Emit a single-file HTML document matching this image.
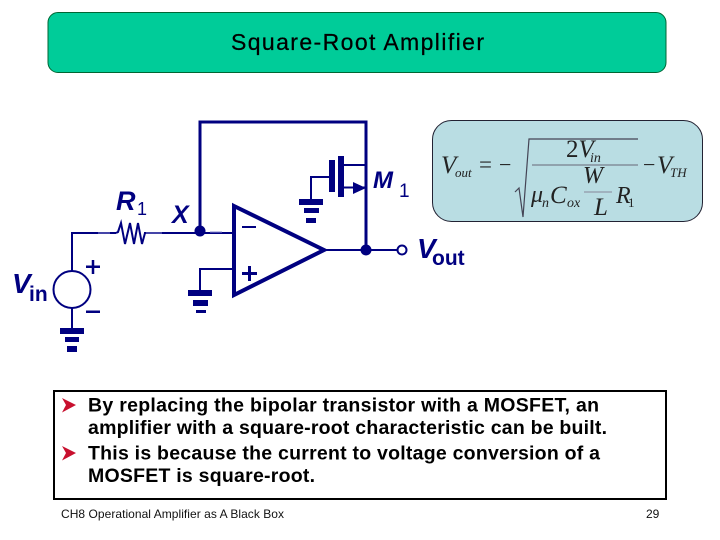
<!DOCTYPE html>
<html>
<head>
<meta charset="utf-8">
<style>
html,body{margin:0;padding:0;background:#fff;width:720px;height:540px;overflow:hidden}
svg{display:block}
text{font-family:"Liberation Sans",Arial,sans-serif}
.s{font-family:"Liberation Serif",serif;fill:#222}
.c{font-family:"Liberation Sans",sans-serif;fill:#000080}
</style>
</head>
<body>
<svg width="720" height="540" viewBox="0 0 720 540" xmlns="http://www.w3.org/2000/svg">
<rect x="48" y="12.5" width="618" height="60" rx="10" fill="#00cc99" stroke="#063" stroke-width="1"/>
<text x="231" y="50" font-size="23" textLength="253" lengthAdjust="spacing" fill="#000" stroke="#000" stroke-width="0.25">Square-Root Amplifier</text>

<!-- circuit -->
<g fill="none" stroke="#000080" stroke-width="2">
<path d="M72 271V233H116" />
<path d="M116 233l2-1 3-9 4 21 5-21 4 21 4-21 4 21 3-11h3"/>
<path d="M144 233H233"/>
<path d="M72 307V329"/>
<circle cx="72" cy="289.500" r="18.500"/>
<path d="M233 269H200V291"/>
<path d="M311 199V177H331"/>
<path d="M343 165H366M343 187.500H366M326 250H398"/>
</g>
<path d="M98 233H110M146 233H162M210 232H222" stroke="#8a8ad0" stroke-width="1" fill="none"/>
<path d="M200 231V122H366V250" fill="none" stroke="#000080" stroke-width="3"/>
<path d="M234 206L324 250L234 295Z" fill="none" stroke="#000080" stroke-width="4"/>
<rect x="329" y="160" width="6" height="32" fill="#000080"/>
<rect x="338" y="156" width="6" height="41" fill="#000080"/>
<path d="M353 182L366 188L353 194Z" fill="#000080"/>
<circle cx="200" cy="231" r="5.500" fill="#000080"/>
<circle cx="366" cy="250" r="5.500" fill="#000080"/>
<circle cx="402" cy="250" r="4.500" fill="#fff" stroke="#000080" stroke-width="2"/>

<!-- grounds -->
<g fill="#000080">
<rect x="188" y="290" width="24" height="6"/><rect x="193" y="300" width="15" height="6"/><rect x="196" y="310" width="10" height="3"/>
<rect x="299" y="199" width="24" height="6"/><rect x="304" y="208" width="15" height="5"/><rect x="306" y="218" width="10" height="5"/>
<rect x="60" y="328" width="24" height="6"/><rect x="65" y="337" width="14" height="5"/><rect x="67" y="346" width="10" height="6"/>
<rect x="242" y="226" width="14" height="2"/>
<rect x="242" y="272" width="15" height="3"/><rect x="248" y="266" width="3" height="15"/>
<rect x="86" y="265.500" width="14" height="2.500"/><rect x="91.750" y="260" width="2.500" height="14"/>
<rect x="86" y="310.500" width="14" height="2.500"/>
</g>

<text class="c" x="116" y="210" font-size="27" font-weight="bold" font-style="italic">R</text>
<text class="c" x="137" y="215" font-size="18">1</text>
<text class="c" x="172" y="223" font-size="25" font-weight="bold" font-style="italic">X</text>
<text class="c" x="12" y="293" font-size="28" font-weight="bold" font-style="italic">V</text>
<text class="c" x="29" y="301" font-size="21" font-weight="bold">in</text>
<text class="c" x="373" y="188" font-size="24" font-weight="bold" font-style="italic">M</text>
<text class="c" x="399" y="197" font-size="19">1</text>
<text class="c" x="417" y="258" font-size="28" font-weight="bold" font-style="italic">V</text>
<text class="c" x="432" y="265" font-size="21" font-weight="bold">out</text>

<!-- formula -->
<rect x="432.500" y="120.500" width="270" height="101" rx="19" fill="#b9dde3" stroke="#223" stroke-width="1"/>
<text class="s" x="441" y="173" font-size="25" font-style="italic">V</text>
<text class="s" x="455" y="177" font-size="13" font-style="italic">out</text>
<text class="s" x="479" y="172" font-size="23">=</text>
<text class="s" x="499" y="172" font-size="22">−</text>
<path d="M515 192l4-4 4 29 6-78H638" fill="none" stroke="#445" stroke-width="1.200"/>
<path d="M532 165H638" fill="none" stroke="#667" stroke-width="1"/>
<text class="s" x="566" y="157" font-size="25">2<tspan font-style="italic">V</tspan></text>
<text class="s" x="590" y="162" font-size="14" font-style="italic">in</text>
<text class="s" x="531" y="202" font-size="24" font-style="italic">μ</text>
<text class="s" x="542" y="207" font-size="14" font-style="italic">n</text>
<text class="s" x="550" y="203" font-size="25" font-style="italic">C</text>
<text class="s" x="567" y="207" font-size="14" font-style="italic">ox</text>
<text class="s" x="583" y="183" font-size="24" font-style="italic">W</text>
<path d="M584 192H612" stroke="#889" stroke-width="1"/>
<text class="s" x="594" y="215" font-size="25" font-style="italic">L</text>
<text class="s" x="616" y="203" font-size="24" font-style="italic">R</text>
<text class="s" x="628" y="207" font-size="13">1</text>
<text class="s" x="643" y="172" font-size="22">−</text>
<text class="s" x="657" y="173" font-size="25" font-style="italic">V</text>
<text class="s" x="670" y="177" font-size="13" font-style="italic">TH</text>

<!-- text box -->
<rect x="54" y="391" width="612" height="108" fill="#fff" stroke="#000" stroke-width="2"/>
<path d="M62 398L76 405L62 412.500L66 405Z" fill="#c8102e"/>
<path d="M62 446L76 453L62 460.500L66 453Z" fill="#c8102e"/>
<g font-size="19.500" font-weight="bold" fill="#000">
<text x="88" y="411.500" textLength="511">By replacing the bipolar transistor with a MOSFET, an</text>
<text x="88" y="434" textLength="519">amplifier with a square-root characteristic can be built.</text>
<text x="88" y="459.500" textLength="512">This is because the current to voltage conversion of a</text>
<text x="88" y="482" textLength="227">MOSFET is square-root.</text>
</g>
<text x="61" y="518" font-size="12" fill="#111" textLength="223">CH8 Operational Amplifier as A Black Box</text>
<text x="646" y="518" font-size="12" fill="#111">29</text>
</svg>
</body>
</html>
